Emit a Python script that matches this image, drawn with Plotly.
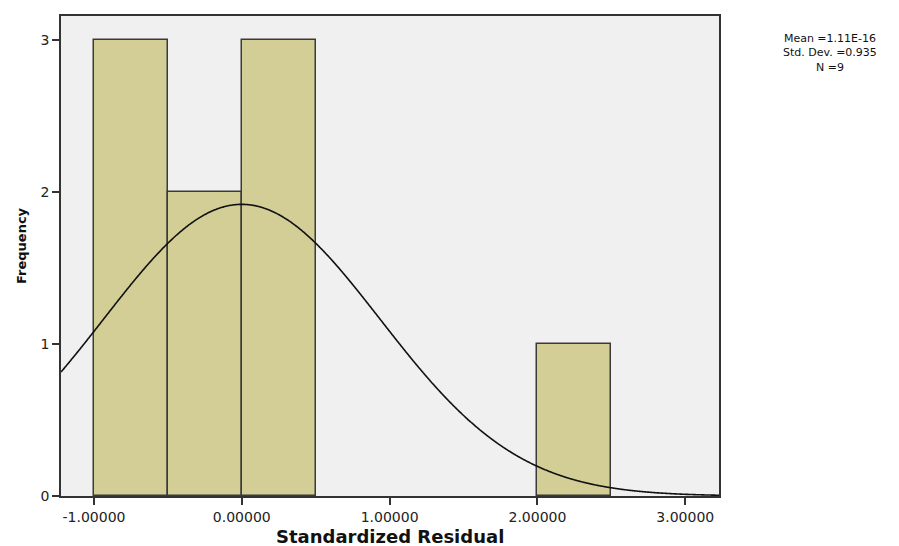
import numpy as np
import plotly.graph_objects as go

# Histogram of standardized residuals (bin width 0.5)
bin_left = [-1.0, -0.5, 0.0, 2.0]
bin_count = [3, 2, 3, 1]
bin_width = 0.5

# Summary statistics shown beside the chart
mean_text = "1.11E-16"
mean_val = float(mean_text)
std_val = 0.935
n_obs = 9

x_ticks = [-1.0, 0.0, 1.0, 2.0, 3.0]
y_ticks = [0, 1, 2, 3]

x_range = [-1.223, 3.228]
y_range = [0, 3.16]

W, H = 899, 546
M = dict(l=61, r=180, t=16, b=50)
pw = W - M["l"] - M["r"]
ph = H - M["t"] - M["b"]


def px_x(px):
    return (px - M["l"]) / pw


def px_y(py):
    return (H - M["b"] - py) / ph


# Fitted normal curve scaled to the histogram's counts
xs = np.linspace(x_range[0], x_range[1], 600)
ys = n_obs * bin_width / (std_val * np.sqrt(2 * np.pi)) * np.exp(-0.5 * ((xs - mean_val) / std_val) ** 2)

fig = go.Figure()
fig.add_trace(go.Bar(
    x=bin_left, y=bin_count, width=[bin_width] * len(bin_left), offset=0,
    marker=dict(color="#D2CE96", line=dict(color="#3a3a3a", width=1.5)),
    hoverinfo="skip",
))
fig.add_trace(go.Scatter(
    x=xs, y=ys, mode="lines", line_shape="spline",
    line=dict(color="#111111", width=1.6),
    hoverinfo="skip",
))

axis_common = dict(
    showgrid=False, zeroline=False, showline=True, linecolor="#333333", linewidth=1.8,
    mirror=True, ticks="outside", ticklen=7, tickwidth=1.5, tickcolor="#333333",
)
fig.update_xaxes(
    range=x_range, tickvals=x_ticks, ticktext=[f"{v:.5f}" for v in x_ticks],
    tickfont=dict(family="DejaVu Sans", size=14, color="#222222"), **axis_common,
)
fig.update_yaxes(
    range=y_range, tickvals=y_ticks, ticktext=[str(v) for v in y_ticks],
    tickfont=dict(family="DejaVu Sans", size=14, color="#222222"), **axis_common,
)

stats_text = "<br>".join([
    f"Mean ={mean_text}",
    f"Std. Dev. ={std_val}",
    f"N ={n_obs}",
])

annotations = [
    dict(text="<b>Standardized Residual</b>", x=px_x(390), y=px_y(536),
         font=dict(family="DejaVu Sans", size=18, color="#111111")),
    dict(text="<b>Frequency</b>", x=px_x(22), y=px_y(246), textangle=-90,
         font=dict(family="DejaVu Sans", size=13, color="#111111")),
    dict(text=stats_text, x=px_x(830), y=px_y(53), align="center",
         font=dict(family="DejaVu Sans", size=11, color="#111111")),
]
for a in annotations:
    a.update(xref="paper", yref="paper", showarrow=False, xanchor="center", yanchor="middle")

fig.update_layout(
    width=W, height=H, margin=M,
    plot_bgcolor="#F0F0F0", paper_bgcolor="white",
    showlegend=False, bargap=0, annotations=annotations,
)

fig.write_html("out.html")
